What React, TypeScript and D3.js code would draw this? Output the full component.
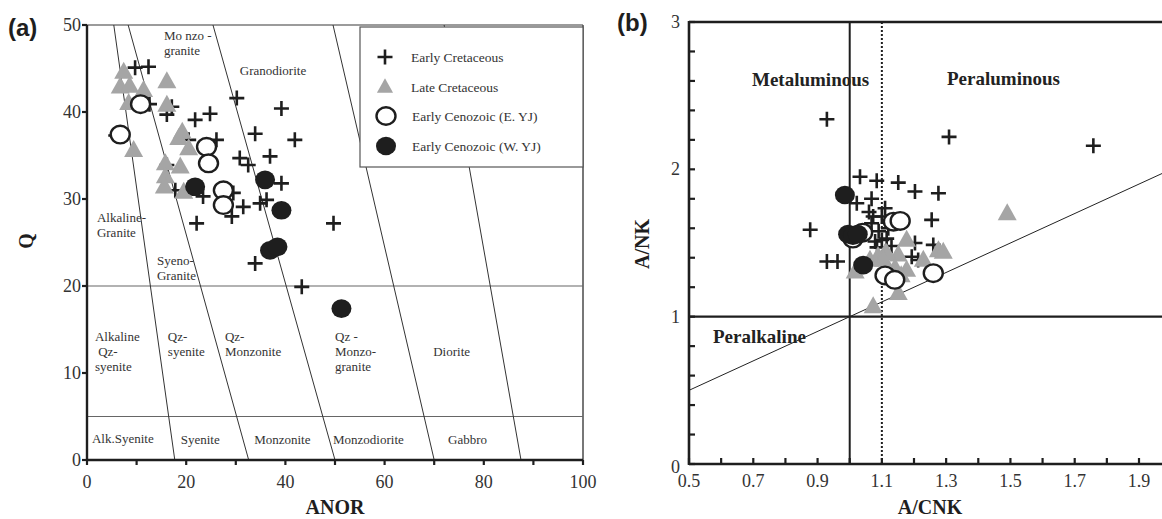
import React from "react";
import * as d3 from "d3";

// ---------- Panel (a): ANOR vs Q ----------
const aEarlyCret: [number, number][] = [
  [9.7, 45.1], [12.4, 45.2], [16.1, 39.7], [17.1, 40.6], [12.6, 40.9], [21.8, 39.1],
  [5.8, 37.3], [20.5, 36.8], [16.1, 33.9], [17.8, 31.0], [23.4, 30.3],
  [30.2, 41.6], [39.2, 40.4], [24.8, 39.8], [33.9, 37.5], [41.9, 36.8], [26.1, 36.8],
  [30.8, 34.7], [32.5, 33.9], [36.9, 34.9], [39.2, 31.8], [29.5, 30.7], [31.5, 29.1],
  [34.9, 29.5], [36.2, 29.9], [29.2, 28.0], [22.1, 27.2], [49.7, 27.2], [33.9, 22.6],
  [43.3, 19.9],
];
const aLateCret: [number, number][] = [
  [7.4, 44.6], [6.7, 42.9], [8.6, 43.0], [11.4, 42.5], [8.4, 41.0], [9.4, 35.6],
  [16.1, 43.5], [16.1, 40.8], [19.2, 37.7], [18.5, 37.0], [20.5, 35.8], [18.8, 33.7],
  [15.8, 34.1], [15.8, 32.6], [15.6, 31.4], [19.5, 30.8],
];
const aCenoE: [number, number][] = [
  [10.8, 40.9], [6.7, 37.4], [24.1, 36.0], [24.5, 34.1], [27.5, 31.0], [27.5, 29.3],
];
const aCenoW: [number, number][] = [
  [21.8, 31.4], [35.9, 32.2], [39.2, 28.7], [36.9, 24.1], [38.4, 24.5], [51.3, 17.4],
];
// field boundary lines [x at Q=50, x at Q=0]
const aFieldLines: [number, number][] = [
  [5.4, 17.7], [8.3, 32.6], [25.4, 50], [49.6, 70], [72, 87.5],
];
const aHLines = [20, 5];
const aXTicks = [0, 10, 20, 30, 40, 50, 60, 70, 80, 90, 100];
const aXLabels = [0, 20, 40, 60, 80, 100];
const aYTicks = [0, 10, 20, 30, 40, 50];
const aFieldLabels: { lines: string[]; x: number; y: number }[] = [
  { lines: ["Mo nzo -", "granite"], x: 15.5, y: 48.3 },
  { lines: ["Granodiorite"], x: 30.8, y: 44.2 },
  { lines: ["Alkaline-", "Granite"], x: 2.0, y: 27.3 },
  { lines: ["Syeno-", "Granite"], x: 14.1, y: 22.4 },
  { lines: ["Alkaline", " Qz-", "syenite"], x: 1.6, y: 13.7 },
  { lines: ["Qz-", "syenite"], x: 16.3, y: 13.7 },
  { lines: ["Qz-", "Monzonite"], x: 27.8, y: 13.7 },
  { lines: ["Qz -", "Monzo-", "granite"], x: 50.0, y: 13.7 },
  { lines: ["Diorite"], x: 69.8, y: 12.0 },
  { lines: ["Alk.Syenite"], x: 1.0, y: 1.95 },
  { lines: ["Syenite"], x: 18.9, y: 1.85 },
  { lines: ["Monzonite"], x: 33.7, y: 1.85 },
  { lines: ["Monzodiorite"], x: 49.6, y: 1.85 },
  { lines: ["Gabbro"], x: 72.8, y: 1.85 },
];
const legendLabels = [
  "Early Cretaceous",
  "Late Cretaceous",
  "Early Cenozoic (E. YJ)",
  "Early Cenozoic (W. YJ)",
];

// ---------- Panel (b): A/CNK vs A/NK ----------
const bEarlyCret: [number, number][] = [
  [0.929, 2.34], [1.309, 2.22], [1.758, 2.16], [0.877, 1.59], [0.929, 1.374], [0.962, 1.374],
  [1.032, 1.95], [1.084, 1.923], [1.151, 1.91], [1.203, 1.85], [1.276, 1.838],
  [1.022, 1.77], [1.068, 1.80], [1.11, 1.736], [1.073, 1.68], [1.068, 1.634], [1.255, 1.657],
  [1.079, 1.51], [1.10, 1.52], [1.115, 1.53], [1.09, 1.58], [1.12, 1.60], [1.085, 1.47],
  [1.13, 1.48], [1.203, 1.50], [1.26, 1.487], [1.193, 1.407], [1.213, 1.385], [1.06, 1.71],
  [1.1, 1.68],
];
const bLateCret: [number, number][] = [
  [1.49, 1.70], [1.073, 1.07], [1.017, 1.305], [1.063, 1.385], [1.088, 1.41], [1.11, 1.43],
  [1.177, 1.52], [1.151, 1.42], [1.115, 1.43], [1.177, 1.317], [1.141, 1.33], [1.151, 1.16],
  [1.276, 1.45], [1.291, 1.44], [1.229, 1.385], [1.105, 1.385], [1.16, 1.28],
];
const bCenoE: [number, number][] = [
  [1.01, 1.53], [1.04, 1.57], [1.136, 1.645], [1.157, 1.65], [1.11, 1.28], [1.14, 1.25],
  [1.26, 1.295],
];
const bCenoW: [number, number][] = [
  [0.985, 1.826], [0.995, 1.56], [1.01, 1.55], [1.025, 1.56], [1.042, 1.35],
];
const bXTicks = d3.range(5, 20).map((v) => v / 10);
const bXLabels = [0.5, 0.7, 0.9, 1.1, 1.3, 1.5, 1.7, 1.9];
const bYTicks = d3.range(0, 16).map((v) => v / 5);
const bYLabels = [0, 1, 2, 3];

const SERIF = "'Liberation Serif', 'Times New Roman', serif";
const SANS = "'Liberation Sans', Arial, sans-serif";
const TRI = "#a5a5a5";
const INK = "#1e1e1e";

type Kind = "plus" | "tri" | "open" | "fill";

function Marker({ kind, x, y, s = 1 }: { kind: Kind; x: number; y: number; s?: number }) {
  if (kind === "plus") {
    const h = 7.5 * s;
    return (
      <path
        d={`M${x - h},${y}H${x + h}M${x},${y - h}V${y + h}`}
        stroke={INK}
        strokeWidth={2.6}
        fill="none"
      />
    );
  }
  if (kind === "tri") {
    const w = 9.5 * s;
    const h = 17 * s;
    return (
      <path
        d={`M${x},${y - h * 0.6}L${x + w},${y + h * 0.4}L${x - w},${y + h * 0.4}Z`}
        fill={TRI}
      />
    );
  }
  if (kind === "open") {
    return <ellipse cx={x} cy={y} rx={9.5 * s} ry={8.8 * s} fill="#fff" stroke={INK} strokeWidth={2.4} />;
  }
  return <ellipse cx={x} cy={y} rx={10 * s} ry={9.3 * s} fill={INK} />;
}

export default function App() {
  // Panel a scales
  const ax = d3.scaleLinear().domain([0, 100]).range([87, 583]);
  const ay = d3.scaleLinear().domain([0, 50]).range([460, 25]);
  // Panel b scales
  const bx = d3.scaleLinear().domain([0.5, 1.9]).range([689, 1139]);
  const by = d3.scaleLinear().domain([0, 3]).range([464, 22]);

  const series = (
    data: [number, number][],
    kind: Kind,
    sx: d3.ScaleLinear<number, number>,
    sy: d3.ScaleLinear<number, number>,
    key: string
  ) => data.map((d, i) => <Marker key={key + i} kind={kind} x={sx(d[0])} y={sy(d[1])} />);

  const bRight = bx(2.0);

  return (
    <svg
      width={1162}
      height={519}
      style={{ position: "absolute", left: 0, top: 0, background: "#fff" }}
      fontFamily={SERIF}
    >
      <rect x={0} y={0} width={1162} height={519} fill="#fff" />

      {/* ===== Panel (a) ===== */}
      <text x={8} y={36} fontFamily={SANS} fontWeight="bold" fontSize={24} fill={INK}>
        (a)
      </text>
      {/* frame (top/right gray) */}
      <line x1={ax(0)} x2={ax(100)} y1={ay(50)} y2={ay(50)} stroke="#7a7a7a" strokeWidth={1.6} />
      <line x1={ax(100)} x2={ax(100)} y1={ay(50)} y2={ay(0)} stroke="#555" strokeWidth={1.6} />
      {aHLines.map((q) => (
        <line key={"h" + q} x1={ax(0)} x2={ax(100)} y1={ay(q)} y2={ay(q)} stroke="#666" strokeWidth={1.2} />
      ))}
      {aFieldLines.map(([top, bot], i) => (
        <line key={"f" + i} x1={ax(top)} y1={ay(50)} x2={ax(bot)} y2={ay(0)} stroke="#333" strokeWidth={1} />
      ))}
      {aFieldLabels.map((l, i) => (
        <text key={"fl" + i} x={ax(l.x)} y={ay(l.y)} fontSize={13} fill="#333" style={{ whiteSpace: "pre" }}>
          {l.lines.map((t, j) => (
            <tspan key={j} x={ax(l.x)} dy={j === 0 ? 0 : 15}>
              {t}
            </tspan>
          ))}
        </text>
      ))}
      {/* axes */}
      <line x1={ax(0)} x2={ax(0)} y1={ay(50)} y2={ay(0) + 1} stroke={INK} strokeWidth={2.4} />
      <line x1={ax(0) - 1} x2={ax(100)} y1={ay(0)} y2={ay(0)} stroke={INK} strokeWidth={2.4} />
      {aXTicks.map((t) => (
        <line key={"axt" + t} x1={ax(t)} x2={ax(t)} y1={ay(0)} y2={ay(0) + 5} stroke={INK} strokeWidth={2.2} />
      ))}
      {aXLabels.map((t) => (
        <text key={"axl" + t} x={ax(t)} y={488} fontSize={18} textAnchor="middle" fill="#333">
          {t}
        </text>
      ))}
      {aYTicks.map((t) => (
        <line key={"ayt" + t} x1={ax(0) - 5} x2={ax(0)} y1={ay(t)} y2={ay(t)} stroke={INK} strokeWidth={2.2} />
      ))}
      {aYTicks.map((t) => (
        <text key={"ayl" + t} x={81} y={ay(t) + 6} fontSize={18} textAnchor="end" fill="#333">
          {t}
        </text>
      ))}
      <text x={335} y={514} fontSize={20} fontWeight="bold" textAnchor="middle" fill={INK}>
        ANOR
      </text>
      <text
        transform="translate(33,241) rotate(-90)"
        fontSize={20}
        fontWeight="bold"
        textAnchor="middle"
        fill={INK}
      >
        Q
      </text>
      {/* markers */}
      {series(aEarlyCret, "plus", ax, ay, "aec")}
      {series(aLateCret, "tri", ax, ay, "alc")}
      {series(aCenoE, "open", ax, ay, "ace")}
      {series(aCenoW, "fill", ax, ay, "acw")}
      {/* legend */}
      <rect x={360} y={27} width={223} height={140} fill="#fff" stroke="#555" strokeWidth={1.2} />
      {(["plus", "tri", "open", "fill"] as Kind[]).map((k, i) => (
        <g key={"lg" + i}>
          <Marker kind={k} x={i < 2 ? 385 : 386} y={[57, 87, 116, 146][i]} s={k === "tri" ? 0.85 : 1} />
          <text x={i < 2 ? 411 : 412} y={[62, 92, 121, 151][i]} fontSize={13.5} fill="#333">
            {legendLabels[i]}
          </text>
        </g>
      ))}

      {/* ===== Panel (b) ===== */}
      <text x={617} y={31} fontFamily={SANS} fontWeight="bold" fontSize={24} fill={INK}>
        (b)
      </text>
      <defs>
        <clipPath id="clipb">
          <rect x={bx(0.5)} y={by(3)} width={bRight - bx(0.5)} height={by(0) - by(3)} />
        </clipPath>
      </defs>
      <g clipPath="url(#clipb)">
        <line x1={bx(0.5)} y1={by(0.5)} x2={bRight} y2={by(2.0)} stroke="#222" strokeWidth={1} />
      </g>
      <line x1={bx(1.1)} x2={bx(1.1)} y1={by(3)} y2={by(0)} stroke={INK} strokeWidth={2} strokeDasharray="2,2" />
      <line x1={bx(1)} x2={bx(1)} y1={by(3)} y2={by(0)} stroke={INK} strokeWidth={2} />
      <line x1={bx(0.5)} x2={bRight} y1={by(1)} y2={by(1)} stroke={INK} strokeWidth={2.2} />
      <line x1={bx(0.5)} x2={bRight} y1={by(3)} y2={by(3)} stroke={INK} strokeWidth={2.4} />
      <line x1={bx(0.5)} x2={bRight} y1={by(0)} y2={by(0)} stroke={INK} strokeWidth={2.6} />
      <line x1={bx(0.5)} x2={bx(0.5)} y1={by(3) - 1} y2={by(0) + 1} stroke={INK} strokeWidth={2.6} />
      {bXTicks.map((t) => (
        <line key={"bxt" + t} x1={bx(t)} x2={bx(t)} y1={by(0)} y2={by(0) - 6} stroke={INK} strokeWidth={2.2} />
      ))}
      {bXLabels.map((t) => (
        <text key={"bxl" + t} x={bx(t)} y={487} fontSize={18} textAnchor="middle" fill="#333">
          {t.toFixed(1)}
        </text>
      ))}
      {bYTicks.map((t) => (
        <line key={"byt" + t} x1={bx(0.5)} x2={bx(0.5) + 6} y1={by(t)} y2={by(t)} stroke={INK} strokeWidth={2.2} />
      ))}
      {bYLabels.map((t) => (
        <text key={"byl" + t} x={680} y={by(t) + (t === 0 ? 9 : 6)} fontSize={18} textAnchor="end" fill="#333">
          {t}
        </text>
      ))}
      <text x={930} y={514} fontSize={20} fontWeight="bold" textAnchor="middle" fill={INK}>
        A/CNK
      </text>
      <text
        transform="translate(649,244) rotate(-90)"
        fontSize={20}
        fontWeight="bold"
        textAnchor="middle"
        fill={INK}
      >
        A/NK
      </text>
      <text x={752} y={86} fontSize={19} fontWeight="bold" fill="#222">
        Metaluminous
      </text>
      <text x={947} y={85} fontSize={19} fontWeight="bold" fill="#222">
        Peraluminous
      </text>
      <text x={713} y={343} fontSize={19} fontWeight="bold" fill="#222">
        Peralkaline
      </text>
      {series(bEarlyCret, "plus", bx, by, "bec")}
      {series(bLateCret, "tri", bx, by, "blc")}
      {series(bCenoE, "open", bx, by, "bce")}
      {series(bCenoW, "fill", bx, by, "bcw")}
    </svg>
  );
}
